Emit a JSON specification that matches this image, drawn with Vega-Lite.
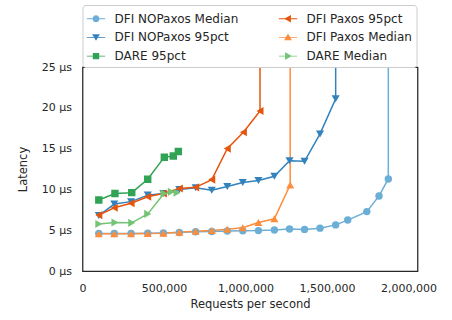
{
  "$schema": "https://vega.github.io/schema/vega-lite/v6.json",
  "width": 335,
  "height": 204,
  "autosize": {"type": "none"},
  "padding": {"left": 82.5, "top": 67, "right": 34.5, "bottom": 49},
  "background": "white",
  "config": {
    "font": "DejaVu Sans",
    "view": {"stroke": "#262626", "strokeWidth": 1.25},
    "axis": {
      "domain": false,
      "ticks": false,
      "grid": false,
      "labelFont": "DejaVu Sans",
      "labelFontSize": 11,
      "labelColor": "#262626",
      "titleFont": "DejaVu Sans",
      "titleFontSize": 11.5,
      "titleFontWeight": "normal",
      "titleColor": "#262626",
      "labelPadding": 11
    }
  },
  "data": {
    "values": [
      {"s": "DFI NOPaxos Median", "x": 100000, "y": 4.6},
      {"s": "DFI NOPaxos Median", "x": 195000, "y": 4.6},
      {"s": "DFI NOPaxos Median", "x": 298000, "y": 4.6},
      {"s": "DFI NOPaxos Median", "x": 400000, "y": 4.62},
      {"s": "DFI NOPaxos Median", "x": 496000, "y": 4.65},
      {"s": "DFI NOPaxos Median", "x": 594000, "y": 4.72},
      {"s": "DFI NOPaxos Median", "x": 694000, "y": 4.8},
      {"s": "DFI NOPaxos Median", "x": 793000, "y": 4.85},
      {"s": "DFI NOPaxos Median", "x": 888000, "y": 4.9},
      {"s": "DFI NOPaxos Median", "x": 983000, "y": 4.93},
      {"s": "DFI NOPaxos Median", "x": 1079000, "y": 4.95},
      {"s": "DFI NOPaxos Median", "x": 1177000, "y": 5.03},
      {"s": "DFI NOPaxos Median", "x": 1270000, "y": 5.15},
      {"s": "DFI NOPaxos Median", "x": 1362000, "y": 5.1},
      {"s": "DFI NOPaxos Median", "x": 1457000, "y": 5.25},
      {"s": "DFI NOPaxos Median", "x": 1553000, "y": 5.65},
      {"s": "DFI NOPaxos Median", "x": 1627000, "y": 6.24},
      {"s": "DFI NOPaxos Median", "x": 1744000, "y": 7.28},
      {"s": "DFI NOPaxos Median", "x": 1819000, "y": 9.2},
      {"s": "DFI NOPaxos Median", "x": 1876000, "y": 11.28},
      {"s": "DFI NOPaxos Median", "x": 1876000, "y": 60},
      {"s": "DFI NOPaxos 95pct", "x": 100000, "y": 6.8},
      {"s": "DFI NOPaxos 95pct", "x": 195000, "y": 8.2},
      {"s": "DFI NOPaxos 95pct", "x": 298000, "y": 8.5},
      {"s": "DFI NOPaxos 95pct", "x": 400000, "y": 9.3},
      {"s": "DFI NOPaxos 95pct", "x": 496000, "y": 9.5},
      {"s": "DFI NOPaxos 95pct", "x": 594000, "y": 10.0},
      {"s": "DFI NOPaxos 95pct", "x": 694000, "y": 10.2},
      {"s": "DFI NOPaxos 95pct", "x": 793000, "y": 9.9},
      {"s": "DFI NOPaxos 95pct", "x": 888000, "y": 10.35},
      {"s": "DFI NOPaxos 95pct", "x": 983000, "y": 10.85},
      {"s": "DFI NOPaxos 95pct", "x": 1079000, "y": 11.1},
      {"s": "DFI NOPaxos 95pct", "x": 1177000, "y": 11.6},
      {"s": "DFI NOPaxos 95pct", "x": 1270000, "y": 13.5},
      {"s": "DFI NOPaxos 95pct", "x": 1362000, "y": 13.45},
      {"s": "DFI NOPaxos 95pct", "x": 1457000, "y": 16.8},
      {"s": "DFI NOPaxos 95pct", "x": 1553000, "y": 21.1},
      {"s": "DFI NOPaxos 95pct", "x": 1553000, "y": 60},
      {"s": "DARE 95pct", "x": 100000, "y": 8.7},
      {"s": "DARE 95pct", "x": 199000, "y": 9.5},
      {"s": "DARE 95pct", "x": 302000, "y": 9.6},
      {"s": "DARE 95pct", "x": 400000, "y": 11.25},
      {"s": "DARE 95pct", "x": 502000, "y": 13.95},
      {"s": "DARE 95pct", "x": 557000, "y": 14.1},
      {"s": "DARE 95pct", "x": 588000, "y": 14.65},
      {"s": "DFI Paxos 95pct", "x": 100000, "y": 6.85},
      {"s": "DFI Paxos 95pct", "x": 195000, "y": 7.75},
      {"s": "DFI Paxos 95pct", "x": 298000, "y": 8.3},
      {"s": "DFI Paxos 95pct", "x": 400000, "y": 9.1},
      {"s": "DFI Paxos 95pct", "x": 496000, "y": 9.5},
      {"s": "DFI Paxos 95pct", "x": 594000, "y": 10.1},
      {"s": "DFI Paxos 95pct", "x": 694000, "y": 10.25},
      {"s": "DFI Paxos 95pct", "x": 793000, "y": 11.2},
      {"s": "DFI Paxos 95pct", "x": 888000, "y": 15.0},
      {"s": "DFI Paxos 95pct", "x": 987000, "y": 17.0},
      {"s": "DFI Paxos 95pct", "x": 1089000, "y": 19.6},
      {"s": "DFI Paxos 95pct", "x": 1089000, "y": 60},
      {"s": "DFI Paxos Median", "x": 100000, "y": 4.55},
      {"s": "DFI Paxos Median", "x": 195000, "y": 4.55},
      {"s": "DFI Paxos Median", "x": 298000, "y": 4.55},
      {"s": "DFI Paxos Median", "x": 400000, "y": 4.6},
      {"s": "DFI Paxos Median", "x": 496000, "y": 4.62},
      {"s": "DFI Paxos Median", "x": 594000, "y": 4.74},
      {"s": "DFI Paxos Median", "x": 694000, "y": 4.87},
      {"s": "DFI Paxos Median", "x": 793000, "y": 4.97},
      {"s": "DFI Paxos Median", "x": 888000, "y": 5.11},
      {"s": "DFI Paxos Median", "x": 983000, "y": 5.3},
      {"s": "DFI Paxos Median", "x": 1079000, "y": 5.95},
      {"s": "DFI Paxos Median", "x": 1177000, "y": 6.4},
      {"s": "DFI Paxos Median", "x": 1274000, "y": 10.55},
      {"s": "DFI Paxos Median", "x": 1274000, "y": 60},
      {"s": "DARE Median", "x": 100000, "y": 5.75},
      {"s": "DARE Median", "x": 199000, "y": 5.95},
      {"s": "DARE Median", "x": 302000, "y": 5.9},
      {"s": "DARE Median", "x": 400000, "y": 7.0},
      {"s": "DARE Median", "x": 500000, "y": 9.5},
      {"s": "DARE Median", "x": 545000, "y": 9.7},
      {"s": "DARE Median", "x": 580000, "y": 9.6}
    ]
  },
  "encoding": {
    "x": {
      "field": "x",
      "type": "quantitative",
      "scale": {"domain": [0, 2055000], "nice": false, "zero": false},
      "axis": {"values": [0, 500000, 1000000, 1500000, 2000000], "format": ",d", "title": "Requests per second", "labelFlush": false, "titlePadding": 5}
    },
    "y": {
      "field": "y",
      "type": "quantitative",
      "scale": {"domain": [0, 25], "nice": false},
      "axis": {"values": [0, 5, 10, 15, 20, 25], "labelExpr": "datum.value + ' μs'", "title": "Latency", "titlePadding": 13}
    },
    "color": {
      "field": "s",
      "type": "nominal",
      "scale": {
        "domain": ["DFI NOPaxos Median", "DFI Paxos 95pct", "DFI NOPaxos 95pct", "DFI Paxos Median", "DARE 95pct", "DARE Median"],
        "range": ["#6baed6", "#e6550d", "#3182bd", "#fd8d3c", "#31a354", "#74c476"]
      },
      "legend": {
        "title": null,
        "orient": "top",
        "columns": 2,
        "offset": 0,
        "padding": 4,
        "rowPadding": 2.8,
        "columnPadding": 40,
        "symbolSize": 335,
        "symbolStrokeWidth": 0,
        "labelFont": "DejaVu Sans",
        "labelFontSize": 12,
        "labelColor": "#262626",
        "labelOffset": 9,
        "labelLimit": 300,
        "strokeColor": "#cccccc",
        "fillColor": "white",
        "cornerRadius": 3,
        "encode": {
          "symbols": {
            "update": {
              "shape": {
                "signal": "datum.value === 'DFI NOPaxos Median' ? 'M-1,-0.045H1V0.045H-1Z M0.38,0A0.38,0.38 0 1,1 -0.38,0A0.38,0.38 0 1,1 0.38,0Z' : datum.value === 'DFI NOPaxos 95pct' ? 'M-1,-0.045H1V0.045H-1Z M-0.42,-0.34L0.42,-0.34L0,0.38Z' : datum.value === 'DARE 95pct' ? 'M-1,-0.045H1V0.045H-1Z M-0.35,-0.35H0.35V0.35H-0.35Z' : datum.value === 'DFI Paxos 95pct' ? 'M-1,-0.045H1V0.045H-1Z M-0.42,0L0.32,-0.42L0.32,0.42Z' : datum.value === 'DFI Paxos Median' ? 'M-1,-0.045H1V0.045H-1Z M0,-0.42L0.42,0.32L-0.42,0.32Z' : 'M-1,-0.045H1V0.045H-1Z M0.42,0L-0.32,0.42L-0.32,-0.42Z'"
              }
            }
          }
        }
      }
    }
  },
  "layer": [
    {"mark": {"type": "line", "strokeWidth": 1.5, "clip": true}},
    {"transform": [{"filter": {"field": "s", "equal": "DFI NOPaxos Median"}}], "mark": {"type": "point", "shape": "circle", "filled": true, "opacity": 1, "size": 55, "clip": true}},
    {"transform": [{"filter": {"field": "s", "equal": "DFI NOPaxos 95pct"}}], "mark": {"type": "point", "shape": "triangle-down", "filled": true, "opacity": 1, "size": 65, "clip": true}},
    {"transform": [{"filter": {"field": "s", "equal": "DARE 95pct"}}], "mark": {"type": "point", "shape": "square", "filled": true, "opacity": 1, "size": 55, "clip": true}},
    {"transform": [{"filter": {"field": "s", "equal": "DFI Paxos 95pct"}}], "mark": {"type": "point", "shape": "triangle-left", "filled": true, "opacity": 1, "size": 65, "clip": true}},
    {"transform": [{"filter": {"field": "s", "equal": "DFI Paxos Median"}}], "mark": {"type": "point", "shape": "triangle-up", "filled": true, "opacity": 1, "size": 65, "clip": true}},
    {"transform": [{"filter": {"field": "s", "equal": "DARE Median"}}], "mark": {"type": "point", "shape": "triangle-right", "filled": true, "opacity": 1, "size": 65, "clip": true}}
  ]
}
